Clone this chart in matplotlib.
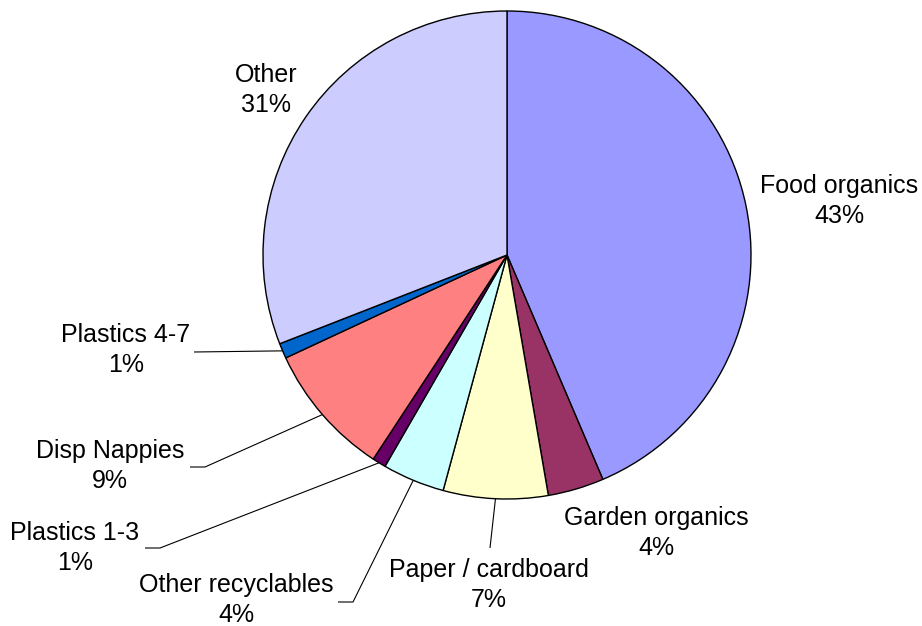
import numpy as np
import matplotlib
matplotlib.use("Agg")
import matplotlib.pyplot as plt

plt.rcParams["font.family"] = ["Liberation Sans", "DejaVu Sans"]

# Waste composition (% by weight), clockwise from 12 o'clock
categories = ["Food organics", "Garden organics", "Paper / cardboard",
              "Other recyclables", "Plastics 1-3", "Disp Nappies",
              "Plastics 4-7", "Other"]
shares = [43.4, 3.7, 6.9, 4.1, 0.9, 8.8, 1.0, 30.8]
colors = ["#9999FF", "#993366", "#FFFFCC", "#CCFFFF", "#660066",
          "#FF8080", "#0066CC", "#CCCCFF"]

W, H = 922, 626
CX, CY, R = 507, 255, 244  # pie centre and radius in pixels


def px(x, y):
    """Pixel position (origin top-left) -> data coordinates of the pie axes."""
    return (x - CX) / R, (CY - y) / R


# label block centres (pixels) and optional leader elbow points (pixels)
label_pos = {
    "Food organics": (839, 201),
    "Garden organics": (656, 533),
    "Paper / cardboard": (489, 585),
    "Other recyclables": (236, 600),
    "Plastics 1-3": (75, 548),
    "Disp Nappies": (110, 466),
    "Plastics 4-7": (126, 350),
    "Other": (266, 90),
}
leaders = {
    "Paper / cardboard": [(490, 548)],
    "Other recyclables": [(338, 602), (353, 602)],
    "Plastics 1-3": [(145, 548), (160, 548)],
    "Disp Nappies": [(190, 467), (205, 467)],
    "Plastics 4-7": [(194, 352)],
}

fig = plt.figure(figsize=(W / 100, H / 100), dpi=100)
ax = fig.add_axes([0, 0, 1, 1])
ax.pie(shares, colors=colors, startangle=90, counterclock=False, radius=1,
       wedgeprops=dict(edgecolor="black", linewidth=1.0))
ax.set_xlim(-CX / R, (W - CX) / R)
ax.set_ylim(-(H - CY) / R, CY / R)
ax.set_aspect("equal", adjustable="box")
ax.axis("off")

total = float(np.sum(shares))
cum = 0.0
for name, val in zip(categories, shares):
    mid = (cum + val / 2) / total * 360.0  # clockwise from top
    cum += val
    lx, ly = label_pos[name]
    tx, ty = px(lx, ly)
    ax.text(tx, ty, f"{name}\n{val:.0f}%", ha="center", va="center",
            fontsize=18, linespacing=1.35, color="black")
    if name in leaders:
        ex = np.sin(np.radians(mid))
        ey = np.cos(np.radians(mid))
        pts = [px(*p) for p in leaders[name]] + [(ex, ey)]
        xs, ys = zip(*pts)
        ax.plot(xs, ys, color="black", linewidth=0.8, solid_capstyle="butt")

fig.savefig("out.png", dpi=100, facecolor="white")
